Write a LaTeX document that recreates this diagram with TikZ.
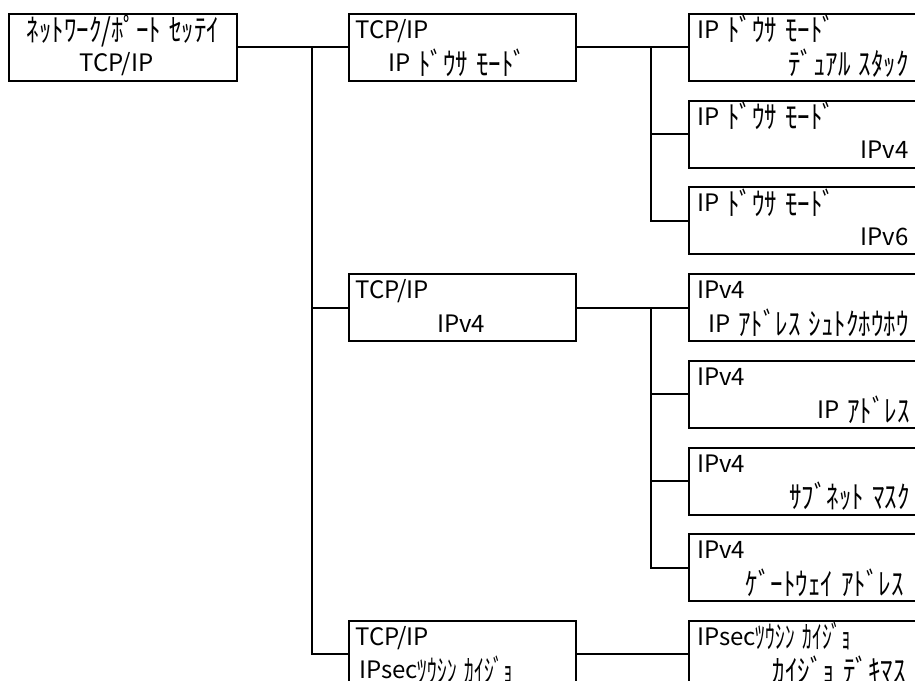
\documentclass[tikz,border=0pt]{standalone}
\usepackage{fontspec}
\setmainfont{Noto Sans CJK JP}
\newfontfamily\kanafont[Scale=1.3, FakeStretch=0.8]{Noto Sans CJK JP}
\newfontfamily\kanathinfont[Scale=1.3, FakeStretch=0.62]{Noto Sans CJK JP}
\newcommand\kana[1]{\raisebox{-2.6pt}{\kanafont\spaceskip=6pt\relax #1}}
\newcommand\kanathin[1]{\raisebox{-2.6pt}{\kanathinfont\spaceskip=6pt\relax #1}}
\usetikzlibrary{positioning}

\tikzset{
  menubox/.style={draw, line width=1.5pt, minimum height=50.25pt, inner sep=0pt},
  link/.style={line width=1.5pt},
  lcd/.style={inner sep=0pt, font=\fontsize{18}{18}\selectfont},
}

\begin{document}
\begin{tikzpicture}[x=0.75pt, y=-0.75pt]
  \useasboundingbox (0,0) rectangle (915,681);
  %
  % menu boxes
  \node[menubox, minimum width=171pt] (root) at (123,47.5) {};
  \node[menubox, minimum width=170.25pt] (tcp1) at (462.5,47.5) {};
  \node[menubox, minimum width=170.25pt] (tcp2) at (462.5,307.6) {};
  \node[menubox, minimum width=170.25pt] (tcp3) at (462.5,654.4) {};
  \node[menubox, minimum width=172.5pt] (mode1) at (804,47.5) {};
  \node[menubox, minimum width=172.5pt] (mode2) at (804,134.2) {};
  \node[menubox, minimum width=172.5pt] (mode3) at (804,220.9) {};
  \node[menubox, minimum width=172.5pt] (v4a) at (804,307.6) {};
  \node[menubox, minimum width=172.5pt] (v4b) at (804,394.3) {};
  \node[menubox, minimum width=172.5pt] (v4c) at (804,481.0) {};
  \node[menubox, minimum width=172.5pt] (v4d) at (804,567.7) {};
  \node[menubox, minimum width=172.5pt] (sec1) at (804,654.4) {};
  %
  % texts
  \node[lcd, anchor=base] (root-a) at ([shift={(115,25.5)}]root.north west) {\kana{ﾈｯﾄﾜｰｸ/ﾎﾟｰﾄ ｾｯﾃｲ}};
  \node[lcd, anchor=base] (root-b) at ([shift={(108.5,59)}]root.north west) {TCP/IP};
  \node[lcd, anchor=base west] (tcp1-a) at ([shift={(7,25.5)}]tcp1.north west) {TCP/IP};
  \node[lcd, anchor=base west] (tcp1-b) at ([shift={(40,59)}]tcp1.north west) {IP\kana{ ﾄﾞｳｻ ﾓｰﾄﾞ}};
  \node[lcd, anchor=base west] (tcp2-a) at ([shift={(7,25.5)}]tcp2.north west) {TCP/IP};
  \node[lcd, anchor=base west] (tcp2-b) at ([shift={(89,59)}]tcp2.north west) {IPv4};
  \node[lcd, anchor=base west] (tcp3-a) at ([shift={(7,25.5)}]tcp3.north west) {TCP/IP};
  \node[lcd, anchor=base west] (tcp3-b) at ([shift={(11,59)}]tcp3.north west) {IPsec\kanathin{ﾂｳｼﾝ ｶｲｼﾞｮ}};
  %
  \node[lcd, anchor=base west] (mode1-a) at ([shift={(9,25.5)}]mode1.north west) {IP\kana{ ﾄﾞｳｻ ﾓｰﾄﾞ}};
  \node[lcd, anchor=base east] (mode1-b) at ([shift={(221,59)}]mode1.north west) {\kana{ﾃﾞｭｱﾙ ｽﾀｯｸ}};
  \node[lcd, anchor=base west] (mode2-a) at ([shift={(9,25.5)}]mode2.north west) {IP\kana{ ﾄﾞｳｻ ﾓｰﾄﾞ}};
  \node[lcd, anchor=base east] (mode2-b) at ([shift={(221,59)}]mode2.north west) {IPv4};
  \node[lcd, anchor=base west] (mode3-a) at ([shift={(9,25.5)}]mode3.north west) {IP\kana{ ﾄﾞｳｻ ﾓｰﾄﾞ}};
  \node[lcd, anchor=base east] (mode3-b) at ([shift={(221,59)}]mode3.north west) {IPv6};
  \node[lcd, anchor=base west] (v4a-a) at ([shift={(9,25.5)}]v4a.north west) {IPv4};
  \node[lcd, anchor=base east] (v4a-b) at ([shift={(221,59)}]v4a.north west) {IP\kana{ ｱﾄﾞﾚｽ ｼｭﾄｸﾎｳﾎｳ}};
  \node[lcd, anchor=base west] (v4b-a) at ([shift={(9,25.5)}]v4b.north west) {IPv4};
  \node[lcd, anchor=base east] (v4b-b) at ([shift={(222,59)}]v4b.north west) {IP\kana{ ｱﾄﾞﾚｽ}};
  \node[lcd, anchor=base west] (v4c-a) at ([shift={(9,25.5)}]v4c.north west) {IPv4};
  \node[lcd, anchor=base east] (v4c-b) at ([shift={(222,59)}]v4c.north west) {\kana{ｻﾌﾞﾈｯﾄ ﾏｽｸ}};
  \node[lcd, anchor=base west] (v4d-a) at ([shift={(9,25.5)}]v4d.north west) {IPv4};
  \node[lcd, anchor=base east] (v4d-b) at ([shift={(216,59)}]v4d.north west) {\kana{ｹﾞｰﾄｳｪｲ ｱﾄﾞﾚｽ}};
  \node[lcd, anchor=base west] (sec1-a) at ([shift={(9,25.5)}]sec1.north west) {IPsec\kanathin{ﾂｳｼﾝ ｶｲｼﾞｮ}};
  \node[lcd, anchor=base east] (sec1-b) at ([shift={(218,59)}]sec1.north west) {\kana{ｶｲｼﾞｮ ﾃﾞｷﾏｽ}};
  %
  % connectors
  \coordinate (split1) at (312,47.5);
  \coordinate (split2) at (651,47.5);
  \coordinate (split3) at (651,307.6);
  \draw[link] (root) -- (tcp1);
  \draw[link] (split1) |- (tcp2.west);
  \draw[link] (split1) |- (tcp3.west);
  \draw[link] (tcp1) -- (mode1);
  \draw[link] (split2) |- (mode2.west);
  \draw[link] (split2) |- (mode3.west);
  \draw[link] (tcp2) -- (v4a);
  \draw[link] (split3) |- (v4b.west);
  \draw[link] (split3) |- (v4c.west);
  \draw[link] (split3) |- (v4d.west);
  \draw[link] (tcp3) -- (sec1);
\end{tikzpicture}
\end{document}
